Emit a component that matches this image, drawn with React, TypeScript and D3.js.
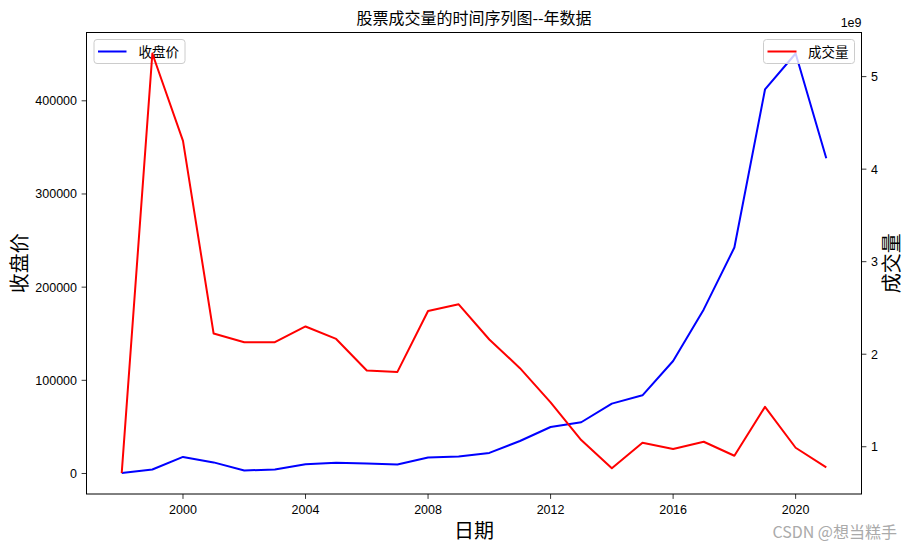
import React from "react";
import * as d3 from "d3";

const years = [1998, 1999, 2000, 2001, 2002, 2003, 2004, 2005, 2006, 2007, 2008, 2009, 2010, 2011, 2012, 2013, 2014, 2015, 2016, 2017, 2018, 2019, 2020, 2021];
const closePrice = [500, 4300, 17800, 11900, 3200, 4300, 10000, 11400, 10700, 9650, 17150, 18200, 22100, 34900, 49900, 55000, 75000, 83900, 120700, 176100, 242500, 412200, 450800, 338300];
const volume = [0.716e9, 5.25e9, 4.305e9, 2.223e9, 2.13e9, 2.13e9, 2.3e9, 2.165e9, 1.824e9, 1.809e9, 2.467e9, 2.539e9, 2.159e9, 1.849e9, 1.479e9, 1.072e9, 0.767e9, 1.043e9, 0.975e9, 1.054e9, 0.903e9, 1.431e9, 0.989e9, 0.778e9];
const xTicks = [2000, 2004, 2008, 2012, 2016, 2020];
const leftTicks = [0, 100000, 200000, 300000, 400000];
const rightTicks = [1e9, 2e9, 3e9, 4e9, 5e9];

const title = "股票成交量的时间序列图--年数据";
const xLabel = "日期";
const leftLabel = "收盘价";
const rightLabel = "成交量";
const watermark = "CSDN @想当糕手";

const W = 912, H = 550;
const L = 86.5, T = 32.5, R = 861.5, B = 494;
const CJK = "'Noto Sans CJK SC', 'Liberation Sans', sans-serif";
const NUM = "'Liberation Sans', 'DejaVu Sans', sans-serif";

function padded(ext: [number, number]): [number, number] {
  const d = (ext[1] - ext[0]) * 0.05;
  return [ext[0] - d, ext[1] + d];
}

export default function App() {
  const x = d3.scaleLinear().domain(padded(d3.extent(years) as [number, number])).range([L, R]);
  const yL = d3.scaleLinear().domain(padded(d3.extent(closePrice) as [number, number])).range([B, T]);
  const yR = d3.scaleLinear().domain(padded(d3.extent(volume) as [number, number])).range([B, T]);

  const lineL = d3.line<number>().x((_, i) => x(years[i])).y((d) => yL(d));
  const lineR = d3.line<number>().x((_, i) => x(years[i])).y((d) => yR(d));

  const tickLen = 4.9;
  const legendFont = 13.5;

  return (
    <svg width={W} height={H} style={{ position: "absolute", left: 0, top: 0, background: "#fff" }}>
      <rect x={0} y={0} width={W} height={H} fill="#fff" />
      <text x={(L + R) / 2} y={24} textAnchor="middle" fontFamily={CJK} fontSize={16} fill="#000">{title}</text>

      {/* blue line (ax1) */}
      <path d={lineL(closePrice) || ""} fill="none" stroke="#0000ff" strokeWidth={2} strokeLinejoin="round" />

      {/* left legend */}
      <g>
        <rect x={L + 7.5} y={39.5} width={91} height={24} rx={3} fill="#fff" fillOpacity={0.8} stroke="#cccccc" strokeWidth={1} />
        <line x1={L + 11.5} x2={L + 40} y1={51.5} y2={51.5} stroke="#0000ff" strokeWidth={2} />
        <text x={L + 52} y={56.5} fontFamily={CJK} fontSize={legendFont} fill="#000">{leftLabel}</text>
      </g>

      {/* red line (ax2) */}
      <path d={lineR(volume) || ""} fill="none" stroke="#ff0000" strokeWidth={2} strokeLinejoin="round" />

      {/* right legend */}
      <g>
        <rect x={R - 98} y={39.5} width={91} height={24} rx={3} fill="#fff" fillOpacity={0.8} stroke="#cccccc" strokeWidth={1} />
        <line x1={R - 94} x2={R - 65} y1={51.5} y2={51.5} stroke="#ff0000" strokeWidth={2} />
        <text x={R - 53.5} y={56.5} fontFamily={CJK} fontSize={legendFont} fill="#000">{rightLabel}</text>
      </g>

      {/* frame */}
      <rect x={L} y={T} width={R - L} height={B - T} fill="none" stroke="#000" strokeWidth={1} />

      {/* x axis */}
      {xTicks.map((t) => (
        <g key={t}>
          <line x1={x(t)} x2={x(t)} y1={B} y2={B + tickLen} stroke="#000" strokeWidth={0.8} />
          <text x={x(t)} y={B + 20} textAnchor="middle" fontFamily={NUM} fontSize={12.5} fill="#000">{t}</text>
        </g>
      ))}
      <text x={(L + R) / 2} y={538} textAnchor="middle" fontFamily={CJK} fontSize={20} fill="#000">{xLabel}</text>

      {/* left axis */}
      {leftTicks.map((t) => (
        <g key={t}>
          <line x1={L - tickLen} x2={L} y1={yL(t)} y2={yL(t)} stroke="#000" strokeWidth={0.8} />
          <text x={L - 9.5} y={yL(t) + 4.5} textAnchor="end" fontFamily={NUM} fontSize={12.5} fill="#000">{t}</text>
        </g>
      ))}
      <text transform={`translate(27,${(T + B) / 2}) rotate(-90)`} textAnchor="middle" fontFamily={CJK} fontSize={20} fill="#000">{leftLabel}</text>

      {/* right axis */}
      {rightTicks.map((t) => (
        <g key={t}>
          <line x1={R} x2={R + tickLen} y1={yR(t)} y2={yR(t)} stroke="#000" strokeWidth={0.8} />
          <text x={R + 9.5} y={yR(t) + 4.5} textAnchor="start" fontFamily={NUM} fontSize={12.5} fill="#000">{t / 1e9}</text>
        </g>
      ))}
      <text x={R} y={27} textAnchor="end" fontFamily={NUM} fontSize={12.5} fill="#000">1e9</text>
      <text transform={`translate(899,${(T + B) / 2}) rotate(-90)`} textAnchor="middle" fontFamily={CJK} fontSize={20} fill="#000">{rightLabel}</text>

      <text x={897} y={538} textAnchor="end" fontFamily={CJK} fontSize={16} fill="#aaaaaa">{watermark}</text>
    </svg>
  );
}
